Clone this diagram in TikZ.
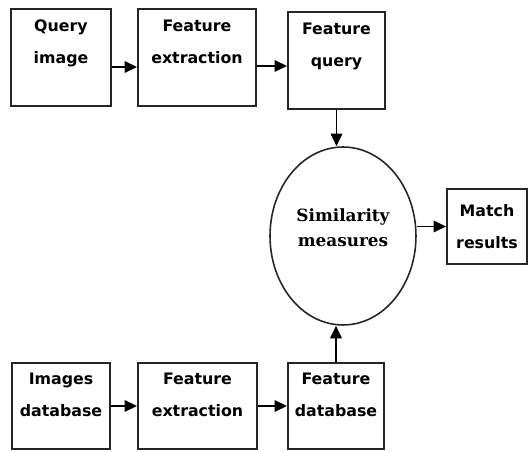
\documentclass[tikz,border=0pt]{standalone}
\usepackage{fontspec}
\newfontfamily\boxfont{DejaVu Sans}
\newfontfamily\simfont{DejaVu Serif}
\usetikzlibrary{shapes.geometric,arrows.meta}

\begin{document}
\begin{tikzpicture}[x=0.02cm, y=-0.02cm,
  box/.style={draw=black!85, line width=1.1pt, fill=white, align=center, inner sep=0pt,
    font=\boxfont\bfseries\fontsize{9}{18}\selectfont},
  arr/.style={line width=1pt, -{Triangle[length=2.5mm,width=2.3mm]}}]
\useasboundingbox (0,0) rectangle (529,452);
% query side (top row)
\node[box, minimum width=2.0cm, minimum height=1.94cm] (qimg) at (61,57.5) {Query\\image\\\mbox{}};
\node[box, minimum width=2.36cm, minimum height=1.94cm] (fext1) at (197,57.5) {Feature\\extraction\\\mbox{}};
\node[box, minimum width=1.94cm, minimum height=1.94cm] (fquery) at (336.5,60.5) {Feature\\query\\\mbox{}};
% database side (bottom row)
\node[box, minimum width=1.96cm, minimum height=1.72cm] (imgdb) at (61,406) {Images\\database\\[-5.5pt]\mbox{}};
\node[box, minimum width=2.38cm, minimum height=1.72cm] (fext2) at (197.5,406) {Feature\\extraction\\[-5.5pt]\mbox{}};
\node[box, minimum width=1.92cm, minimum height=1.72cm] (fdb) at (336,406) {Feature\\database\\[-5.5pt]\mbox{}};
% matching
\node[ellipse, draw=black!85, line width=0.9pt, inner sep=0pt, minimum width=2.92cm, minimum height=3.56cm,
  align=center, font=\simfont\bfseries\fontsize{9.6}{14}\selectfont] (sim) at (343,236) {Similarity\\measures\\[-4.5pt]\mbox{}};
\node[box, minimum width=1.6cm, minimum height=1.5cm] (match) at (487,226.5) {Match\\results};

\draw[arr] ([yshift=-0.19cm]qimg.east) -- ([yshift=-0.19cm]qimg.east -| fext1.west);
\draw[arr] ([yshift=-0.17cm]fext1.east) -- ([yshift=-0.17cm]fext1.east -| fquery.west);
\draw[arr] (imgdb.east) -- (fext2.west);
\draw[arr] (fext2.east) -- (fdb.west);
\draw[arr] (fquery.south) -- (fquery.south |- sim.north);
\draw[arr] (fdb.north) -- (fdb.north |- sim.south);
\draw[arr] (match.west -| sim.east) -- (match.west);
\end{tikzpicture}
\end{document}
